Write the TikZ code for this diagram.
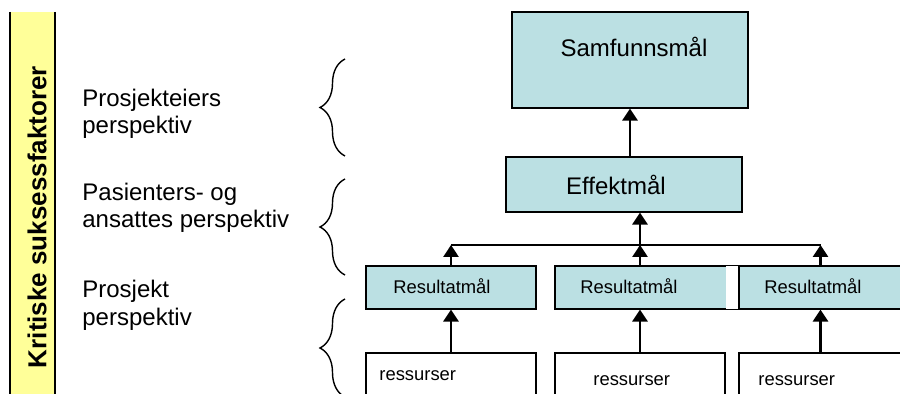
\documentclass[tikz,border=0pt]{standalone}
\usepackage{fontspec}
\setmainfont{Liberation Sans}
\usetikzlibrary{arrows.meta,decorations.pathreplacing}
\definecolor{goalfill}{RGB}{187,224,227}
\definecolor{barfill}{RGB}{255,255,153}
\tikzset{
  goalbox/.style={draw, line width=0.6pt, fill=goalfill, inner sep=0pt},
  resbox/.style={draw, line width=0.6pt, fill=white, inner sep=0pt},
  bigtext/.style={font=\fontsize{12}{14}\selectfont, inner sep=0pt},
  smalltext/.style={font=\fontsize{9.2}{11}\selectfont, inner sep=0pt},
  sidetext/.style={font=\fontsize{12}{13.8}\selectfont, align=left, inner sep=0pt, anchor=west},
  upflow/.style={-{Triangle[width=7.5pt,length=6pt]}, line width=1.4pt},
  levelbrace/.style={decorate, decoration={brace, amplitude=12.5pt}, line width=0.7pt}
}

\begin{document}
\begin{tikzpicture}[x=0.5pt, y=-0.5pt]
  \useasboundingbox (0,0) rectangle (900,394);
  \clip (0,0) rectangle (900,394);

  % side bar
  \fill[barfill] (10,12) rectangle (55,400);
  \draw[line width=0.7pt] (10,12) -- (10,400) (55,12) -- (55,400);
  \node[rotate=90, font=\bfseries\fontsize{13}{15}\selectfont, inner sep=0pt] (ksf) at (37,217) {Kritiske suksessfaktorer};

  % perspectives
  \node[sidetext] (eier) at (82,114) {Prosjekteiers\\perspektiv};
  \node[sidetext] (pas) at (82,208) {Pasienters- og\\ansattes perspektiv};
  \node[sidetext] (prosj) at (82,305) {Prosjekt\\perspektiv};
  \draw[levelbrace] (345,156) -- (345,59);
  \draw[levelbrace] (345,275) -- (345,179);
  \draw[levelbrace] (345,397) -- (345,299);

  % goal hierarchy
  \node[goalbox, minimum width=118pt, minimum height=48pt] (samf) at (630,60) {};
  \node[bigtext, anchor=base] (samft) at (634,57) {Samfunnsmål};
  \node[goalbox, minimum width=118pt, minimum height=27.5pt] (eff) at (624,184.5) {};
  \node[bigtext, anchor=base] (efft) at (616,195) {Effektmål};

  \node[goalbox, minimum width=85pt, minimum height=21.5pt] (goal1) at (451,287.5) {};
  \node[goalbox, minimum width=92pt, minimum height=21.5pt] (goal2) at (647,287.5) {};
  \fill[white] ([xshift=-7pt,yshift=-0.3pt]goal2.north east) rectangle ([xshift=-0.3pt,yshift=0.3pt]goal2.south east);
  \node[goalbox, minimum width=83pt, minimum height=21.5pt] (goal3) at (822,287.5) {};
  \node[smalltext, anchor=base west] (g1t) at (393,294) {Resultatmål};
  \node[smalltext, anchor=base west] (g2t) at (580,294) {Resultatmål};
  \node[smalltext, anchor=base west] (g3t) at (764,294) {Resultatmål};

  \node[resbox, minimum width=85pt, minimum height=33.5pt] (res1) at (451,386.5) {};
  \node[resbox, minimum width=85pt, minimum height=33.5pt] (res2) at (640,386.5) {};
  \node[resbox, minimum width=81.5pt, minimum height=33.5pt] (res3) at (820.5,386.5) {};
  \node[smalltext, anchor=base west] (r1t) at (379,381) {ressurser};
  \node[smalltext, anchor=base west] (r2t) at (593,386) {ressurser};
  \node[smalltext, anchor=base west] (r3t) at (758,386) {ressurser};

  % connectors
  \coordinate (bus) at (0,245);
  \draw[line width=0.7pt] (res1.north |- bus) -- (res3.north |- bus);
  \draw[upflow] (samf.south |- eff.north) -- (samf.south);
  \draw[upflow] (res2.north |- bus) -- (res2.north |- eff.south);
  \foreach \i in {1,2,3} {
    \draw[upflow] (res\i.north) -- (res\i.north |- goal\i.south);
    \draw[upflow] (res\i.north |- goal\i.north) -- (res\i.north |- bus);
  }
\end{tikzpicture}
\end{document}
